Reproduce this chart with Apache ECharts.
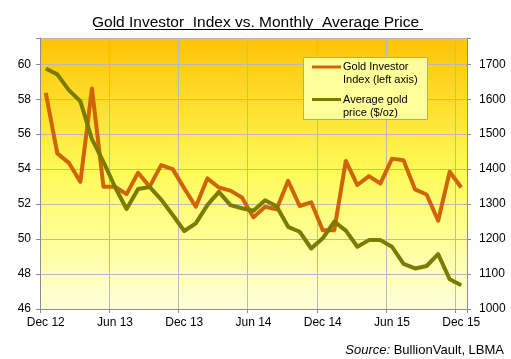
<!DOCTYPE html>
<html>
<head>
<meta charset="utf-8">
<script src="https://cdn.jsdelivr.net/npm/echarts@6/dist/echarts.min.js"></script>
<style>
html,body{margin:0;padding:0;background:#fff;}
#c{width:511px;height:359px;}
</style>
</head>
<body>
<div id="c"></div>
<script>
const months = ['Dec 12','Jan 13','Feb 13','Mar 13','Apr 13','May 13','Jun 13','Jul 13','Aug 13','Sep 13','Oct 13','Nov 13',
  'Dec 13','Jan 14','Feb 14','Mar 14','Apr 14','May 14','Jun 14','Jul 14','Aug 14','Sep 14','Oct 14','Nov 14',
  'Dec 14','Jan 15','Feb 15','Mar 15','Apr 15','May 15','Jun 15','Jul 15','Aug 15','Sep 15','Oct 15','Nov 15','Dec 15'];
const investorIndex = [58.36,54.9,54.36,53.27,58.61,52.99,52.99,52.57,53.79,53.0,54.23,54.0,
  52.9,51.85,53.47,52.95,52.77,52.38,51.24,51.85,51.7,53.33,51.89,52.1,
  50.51,50.51,54.47,53.09,53.6,53.18,54.6,54.51,52.84,52.55,51.05,53.85,52.95];
const goldPrice = [1688,1671,1626,1594,1486,1421,1349,1286,1343,1349,1313,1269,
  1223,1245,1297,1335,1297,1288,1281,1311,1294,1235,1221,1173,
  1202,1250,1224,1178,1197,1197,1178,1129,1116,1123,1157,1085,1068];
const seriesNames = ['Gold Investor\nIndex (left axis)', 'Average gold\nprice ($/oz)'];
const titleText = 'Gold Investor  Index vs. Monthly  Average Price';

const chart = echarts.init(document.getElementById('c'), null, {renderer:'canvas'});
const FONT = 'Liberation Sans, Arial, sans-serif';
const orange = '#CF6508';
const olive = '#7B7B00';
const gridCol = '#B9B9B9';
const axisCol = '#8C8C8C';

chart.setOption({
  animation: false,
  backgroundColor: '#ffffff',
  title: {
    text: titleText,
    left: 'center',
    top: 10,
    textStyle: {fontFamily: FONT, fontSize: 15.5, fontWeight: 'normal', color: '#000'}
  },
  grid: {
    left: 40, right: 44, top: 38, bottom: 50,
    show: true,
    borderWidth: 0,
    backgroundColor: new echarts.graphic.LinearGradient(0, 0, 0, 1, [
      {offset: 0, color: '#FFC305'},
      {offset: 0.3, color: '#FFE535'},
      {offset: 0.5, color: '#FFFA5A'},
      {offset: 0.75, color: '#FFFF9A'},
      {offset: 1, color: '#FFFFDA'}
    ])
  },
  xAxis: {
    type: 'category',
    data: months,
    boundaryGap: true,
    axisLine: {show: true, lineStyle: {color: axisCol, width: 1}},
    axisTick: {show: true, interval: 5, length: 4, lineStyle: {color: axisCol}},
    axisLabel: {interval: 5, margin: 8, fontFamily: FONT, fontSize: 12, color: '#000'},
    splitLine: {show: true, interval: 5, lineStyle: {color: gridCol, width: 1}}
  },
  yAxis: [{
    type: 'value',
    position: 'left',
    min: 46, max: 61.5, interval: 2,
    axisLine: {show: true, lineStyle: {color: axisCol, width: 1}},
    axisTick: {show: true, length: 4, lineStyle: {color: axisCol}},
    axisLabel: {margin: 9, fontFamily: FONT, fontSize: 12, color: '#000',
      formatter: v => (Math.abs(v % 2) < 1e-9 ? String(v) : '')},
    splitLine: {show: true, lineStyle: {color: gridCol, width: 1}}
  }, {
    type: 'value',
    position: 'right',
    min: 1000, max: 1775, interval: 100,
    axisLine: {show: true, lineStyle: {color: axisCol, width: 1}},
    axisTick: {show: true, length: 4, lineStyle: {color: axisCol}},
    axisLabel: {margin: 12, fontFamily: FONT, fontSize: 12, color: '#000',
      formatter: v => (v % 100 === 0 ? String(v) : '')},
    splitLine: {show: false}
  }],
  series: [{
    name: seriesNames[0],
    type: 'line',
    yAxisIndex: 0,
    data: investorIndex,
    symbol: 'none',
    lineStyle: {color: orange, width: 4, join: 'round'},
    itemStyle: {color: orange}
  }, {
    name: seriesNames[1],
    type: 'line',
    yAxisIndex: 1,
    data: goldPrice,
    symbol: 'none',
    lineStyle: {color: olive, width: 4, join: 'round'},
    itemStyle: {color: olive}
  }],
  graphic: [
    {type: 'line', shape: {x1: 95, y1: 29.5, x2: 423, y2: 29.5}, style: {stroke: '#000', lineWidth: 1}, z: 10},
    {type: 'rect', shape: {x: 303.5, y: 57.5, width: 124, height: 62}, style: {fill: '#FFFF99', stroke: '#A8A8A8', lineWidth: 1}, z: 10},
    {type: 'line', shape: {x1: 312, y1: 67, x2: 341, y2: 67}, style: {stroke: orange, lineWidth: 3}, z: 11},
    {type: 'text', x: 343, y: 60.5, style: {text: seriesNames[0], font: '11px ' + FONT, fill: '#000', lineHeight: 13}, z: 11},
    {type: 'line', shape: {x1: 312, y1: 99.5, x2: 341, y2: 99.5}, style: {stroke: olive, lineWidth: 3}, z: 11},
    {type: 'text', x: 343, y: 93, style: {text: seriesNames[1], font: '11px ' + FONT, fill: '#000', lineHeight: 13}, z: 11},
    {type: 'text', right: 7, top: 344, style: {
      text: '{i|Source:} {n|BullionVault, LBMA}',
      rich: {
        i: {fontFamily: FONT, fontSize: 13, fontStyle: 'italic', fill: '#000'},
        n: {fontFamily: FONT, fontSize: 13, fill: '#000'}
      }, font: '13px ' + FONT, fill: '#000'}, z: 11}
  ]
});
</script>
</body>
</html>
